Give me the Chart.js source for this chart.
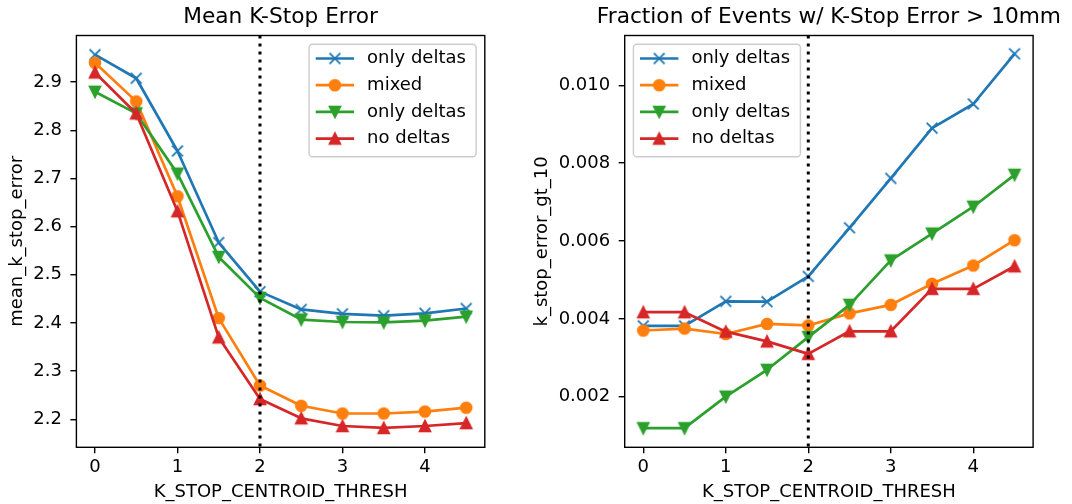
<!DOCTYPE html>
<html>
<head>
<meta charset="utf-8">
<script src="https://cdn.jsdelivr.net/npm/chart.js@4/dist/chart.umd.min.js"></script>
<style>
  html, body { margin: 0; padding: 0; background: #fff; }
  #wrap { position: relative; width: 1072px; height: 504px; overflow: hidden; }
  canvas { position: absolute; top: 0; }
</style>
</head>
<body>
<div id="wrap">
  <canvas id="c1" width="530" height="504" style="left:0px"></canvas>
  <canvas id="c2" width="542" height="504" style="left:530px"></canvas>
</div>
<script>
// ---------- data ----------
const xThresh = [0, 0.5, 1, 1.5, 2, 2.5, 3, 3.5, 4, 4.5];
const seriesNames = ['only deltas', 'mixed', 'only deltas', 'no deltas'];
const seriesColors = ['#1f77b4', '#ff7f0e', '#2ca02c', '#d62728'];
const seriesMarkers = ['x', 'circle', 'triDown', 'triUp'];

const meanOnlyDeltasA = [2.957, 2.908, 2.757, 2.567, 2.465, 2.428, 2.419, 2.415, 2.420, 2.430];
const meanMixed       = [2.940, 2.860, 2.663, 2.410, 2.270, 2.228, 2.212, 2.212, 2.216, 2.224];
const meanOnlyDeltasB = [2.880, 2.835, 2.710, 2.537, 2.452, 2.407, 2.402, 2.401, 2.405, 2.413];
const meanNoDeltas    = [2.920, 2.835, 2.632, 2.370, 2.242, 2.202, 2.186, 2.182, 2.186, 2.192];

const fracOnlyDeltasA = [0.00382, 0.00382, 0.00445, 0.00444, 0.00509, 0.00634, 0.00761, 0.00890, 0.00952, 0.01081];
const fracMixed       = [0.00370, 0.00375, 0.00361, 0.00387, 0.00383, 0.00414, 0.00436, 0.00490, 0.00537, 0.00602];
const fracOnlyDeltasB = [0.00119, 0.00119, 0.00200, 0.00269, 0.00353, 0.00436, 0.00550, 0.00619, 0.00688, 0.00770];
const fracNoDeltas    = [0.00417, 0.00417, 0.00367, 0.00342, 0.00310, 0.00368, 0.00368, 0.00477, 0.00477, 0.00535];

const xTicks = [0, 1, 2, 3, 4];
const xTickLabels = ['0', '1', '2', '3', '4'];
const leftYTicks = [2.2, 2.3, 2.4, 2.5, 2.6, 2.7, 2.8, 2.9];
const leftYTickLabels = ['2.2', '2.3', '2.4', '2.5', '2.6', '2.7', '2.8', '2.9'];
const rightYTicks = [0.002, 0.004, 0.006, 0.008, 0.010];
const rightYTickLabels = ['0.002', '0.004', '0.006', '0.008', '0.010'];

const threshLine = 2;
const xRange = [-0.225, 4.725];
const leftYRange = [2.1418, 2.9968];
const rightYRange = [0.000699, 0.01128];

// ---------- style ----------
const FONT = 'DejaVu Sans';
const TICK_FS = 18;
const TITLE_FS = 21.7;
const LINE_W = 2.7;
const MS = 10.8;
const MEW = 1.8;

Chart.defaults.font.family = FONT;
Chart.defaults.color = '#000';

function makeMarker(kind, color) {
  const c = document.createElement('canvas');
  c.width = 24; c.height = 24;
  const g = c.getContext('2d');
  g.translate(12, 12);
  const r = MS / 2;
  g.lineWidth = MEW;
  g.strokeStyle = color;
  g.fillStyle = color;
  g.lineJoin = 'miter';
  g.beginPath();
  if (kind === 'x') {
    g.moveTo(-r, -r); g.lineTo(r, r);
    g.moveTo(-r, r); g.lineTo(r, -r);
    g.stroke();
  } else if (kind === 'circle') {
    g.arc(0, 0, r, 0, Math.PI * 2);
    g.fill(); g.stroke();
  } else if (kind === 'triUp') {
    g.moveTo(0, -r); g.lineTo(-r, r); g.lineTo(r, r); g.closePath();
    g.fill(); g.stroke();
  } else if (kind === 'triDown') {
    g.moveTo(0, r); g.lineTo(-r, -r); g.lineTo(r, -r); g.closePath();
    g.fill(); g.stroke();
  }
  return c;
}
const markerImgs = seriesMarkers.map((m, i) => makeMarker(m, seriesColors[i]));

function buildDatasets(seriesList) {
  return seriesList.map((vals, i) => ({
    label: seriesNames[i],
    data: xThresh.map((x, j) => ({ x: x, y: vals[j] })),
    borderColor: seriesColors[i],
    backgroundColor: seriesColors[i],
    borderWidth: LINE_W,
    borderJoinStyle: 'round',
    pointStyle: markerImgs[i],
    pointRadius: 5,
    pointHoverRadius: 5,
    tension: 0,
    fill: false,
    order: seriesList.length - 1 - i
  }));
}

const framePlugin = {
  id: 'frameAndExtras',
  afterDatasetsDraw(chart, args, opts) {
    const ctx = chart.ctx, a = chart.chartArea;
    // vertical dotted line
    const xp = chart.scales.x.getPixelForValue(threshLine);
    ctx.save();
    ctx.strokeStyle = '#000';
    ctx.lineWidth = 3;
    ctx.setLineDash([3, 5]);
    ctx.lineCap = 'butt';
    ctx.beginPath();
    ctx.moveTo(xp, a.top);
    ctx.lineTo(xp, a.bottom);
    ctx.stroke();
    ctx.restore();
    // spines
    ctx.save();
    ctx.strokeStyle = '#000';
    ctx.lineWidth = 1.4;
    ctx.strokeRect(a.left, a.top, a.right - a.left, a.bottom - a.top);
    ctx.restore();
    // title (centred over the axes, not squeezed)
    ctx.save();
    ctx.font = TITLE_FS + 'px "' + FONT + '"';
    ctx.fillStyle = '#000';
    ctx.textAlign = 'center';
    ctx.textBaseline = 'middle';
    ctx.fillText(opts.title, (a.left + a.right) / 2, 17.6);
    ctx.restore();
    // legend
    const w = 167, h = 112.5, inset = 8.7;
    const x0 = opts.anchor === 'right' ? a.right - inset - w : a.left + inset;
    const y0 = a.top + inset;
    ctx.save();
    ctx.beginPath();
    if (ctx.roundRect) ctx.roundRect(x0, y0, w, h, 3.5); else ctx.rect(x0, y0, w, h);
    ctx.fillStyle = 'rgba(255,255,255,0.8)';
    ctx.fill();
    ctx.lineWidth = 1.4;
    ctx.strokeStyle = '#cccccc';
    ctx.stroke();
    ctx.font = TICK_FS + 'px "' + FONT + '"';
    ctx.textBaseline = 'middle';
    ctx.textAlign = 'left';
    for (let i = 0; i < seriesNames.length; i++) {
      const yr = y0 + 14.3 + i * 26.7;
      ctx.strokeStyle = seriesColors[i];
      ctx.lineWidth = LINE_W;
      ctx.lineCap = 'butt';
      ctx.beginPath();
      ctx.moveTo(x0 + 6.6, yr);
      ctx.lineTo(x0 + 45, yr);
      ctx.stroke();
      ctx.drawImage(markerImgs[i], x0 + 25.8 - 12, yr - 12);
      ctx.fillStyle = '#000';
      ctx.fillText(seriesNames[i], x0 + 58, yr);
    }
    ctx.restore();
  }
};

function makeChart(id, seriesList, cfg) {
  return new Chart(document.getElementById(id), {
    type: 'line',
    data: { datasets: buildDatasets(seriesList) },
    plugins: [framePlugin],
    options: {
      responsive: false,
      animation: false,
      devicePixelRatio: 1,
      layout: { padding: { left: 0, right: cfg.padRight, top: 35.5, bottom: 0 } },
      plugins: {
        legend: { display: false },
        tooltip: { enabled: false },
        title: { display: false },
        frameAndExtras: { anchor: cfg.legendAnchor, title: cfg.title }
      },
      scales: {
        x: {
          type: 'linear',
          min: xRange[0],
          max: xRange[1],
          afterBuildTicks(scale) { scale.ticks = xTicks.map(v => ({ value: v })); },
          afterFit(scale) { scale.height = 504 - 447.3; },
          ticks: {
            color: '#000',
            font: { size: TICK_FS, family: FONT },
            padding: 3.7,
            maxRotation: 0,
            autoSkip: false,
            callback: (v) => { const k = xTicks.indexOf(v); return k >= 0 ? xTickLabels[k] : ''; }
          },
          grid: { display: true, drawOnChartArea: false, drawTicks: true, tickLength: 6, color: '#000', lineWidth: 1.4 },
          border: { display: false },
          title: {
            display: true,
            text: 'K_STOP_CENTROID_THRESH',
            color: '#000',
            font: { size: TICK_FS, family: FONT },
            padding: { top: 4, bottom: 1.2 }
          }
        },
        y: {
          type: 'linear',
          min: cfg.yRange[0],
          max: cfg.yRange[1],
          afterBuildTicks(scale) { scale.ticks = cfg.yTicks.map(v => ({ value: v })); },
          afterFit(scale) { scale.width = cfg.yWidth; },
          ticks: {
            color: '#000',
            font: { size: TICK_FS, family: FONT },
            padding: 8.5,
            autoSkip: false,
            callback: (v) => {
              let k = -1;
              cfg.yTicks.forEach((t, i) => { if (Math.abs(t - v) < 1e-9) k = i; });
              return k >= 0 ? cfg.yTickLabels[k] : '';
            }
          },
          grid: { display: true, drawOnChartArea: false, drawTicks: true, tickLength: 6, color: '#000', lineWidth: 1.4 },
          border: { display: false },
          title: {
            display: true,
            text: cfg.yTitle,
            color: '#000',
            font: { size: TICK_FS, family: FONT },
            padding: { top: cfg.yTitlePad, bottom: 0 }
          }
        }
      }
    }
  });
}

makeChart('c1', [meanOnlyDeltasA, meanMixed, meanOnlyDeltasB, meanNoDeltas], {
  title: 'Mean K-Stop Error',
  yTitle: 'mean_k_stop_error',
  yRange: leftYRange,
  yTicks: leftYTicks,
  yTickLabels: leftYTickLabels,
  yWidth: 76.4,
  yTitlePad: 6.5,
  padRight: 530 - 484.8,
  legendAnchor: 'right'
});

makeChart('c2', [fracOnlyDeltasA, fracMixed, fracOnlyDeltasB, fracNoDeltas], {
  title: 'Fraction of Events w/ K-Stop Error > 10mm',
  yTitle: 'k_stop_error_gt_10',
  yRange: rightYRange,
  yTicks: rightYTicks,
  yTickLabels: rightYTickLabels,
  yWidth: 624.7 - 530,
  yTitlePad: 1.2,
  padRight: 1072 - 1033.1,
  legendAnchor: 'left'
});
</script>
</body>
</html>
